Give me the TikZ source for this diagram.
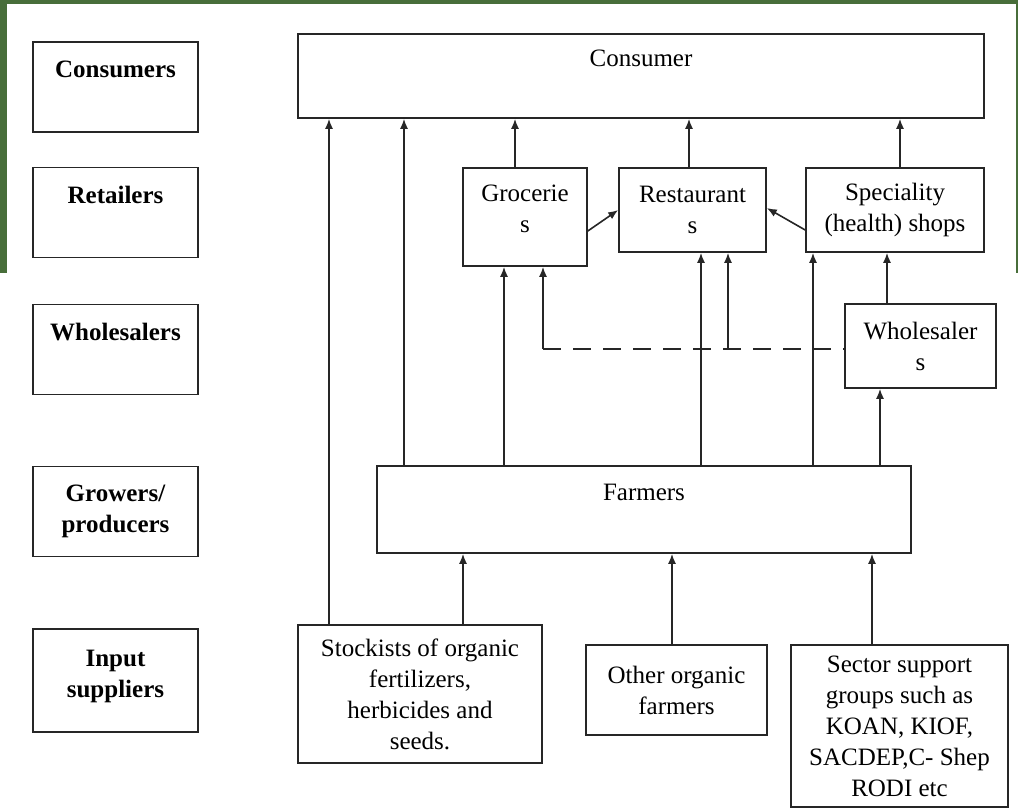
\documentclass[tikz,border=0pt]{standalone}
\usepackage{fontspec}
\setmainfont{Liberation Serif}
\usetikzlibrary{arrows.meta,positioning}

\definecolor{slidegreen}{RGB}{72,110,58}
% single line of text set in the upper half of its box
\newcommand{\upline}[1]{#1\\[2pt]\mbox{}}

\begin{document}
\begin{tikzpicture}[x=0.5pt,y=-0.5pt,
  box/.style={draw=black!85,line width=0.8pt,rectangle,inner sep=0pt,
    align=center,font=\fontsize{12.5}{15.5}\selectfont},
  lbl/.style={box,font=\fontsize{12.5}{15.5}\selectfont\bfseries,
    minimum width=82.5pt,minimum height=45pt},
  arr/.style={black!85,line width=0.8pt,-{Latex[length=5pt,width=4pt]}},
  link/.style={black!85,line width=0.8pt,dash pattern=on 9pt off 6pt}]
% Background: slide frame behind the upper part
\useasboundingbox (0,0) rectangle (1018,810);
\fill[slidegreen] (0,0) rectangle (1018,273);
\fill[white] (7,4) rectangle (1016,273);
\fill[white] (0,273) rectangle (1018,810);
% Level labels on the left
\node[lbl] (lcons) at (115.5,87) {\upline{Consumers}};
\node[lbl] (lret) at (115.5,212.5) {\upline{Retailers}};
\node[lbl] (lwhole) at (115.5,349.5) {\upline{Wholesalers}};
\node[lbl] (lgrow) at (115.5,511.5) {Growers/\\producers};
\node[lbl,minimum height=51.5pt] (linput) at (115.5,680.5) {Input\\suppliers\\[-8.5pt]\mbox{}};
% Chain actors
\node[box,minimum width=343pt,minimum height=42pt] (cons) at (641,76) {\upline{Consumer}};
\node[box,minimum width=62pt,minimum height=49pt] (groc) at (525,217) {Grocerie\\s\\[-7.5pt]\mbox{}};
\node[box,minimum width=73.5pt,minimum height=42pt] (rest) at (692.5,210) {Restaurant\\s};
\node[box,minimum width=89pt,minimum height=42pt] (spec) at (895,210) {Speciality\\(health) shops};
\node[box,minimum width=75.5pt,minimum height=42pt] (whole) at (920.5,346) {Wholesaler\\s};
\node[box,minimum width=267pt,minimum height=43.5pt] (farm) at (644,509.5) {\upline{Farmers}};
\node[box,minimum width=122pt,minimum height=69pt] (stock) at (420,694)
  {Stockists of organic\\fertilizers,\\herbicides and\\seeds.};
\node[box,minimum width=90.5pt,minimum height=45pt] (other) at (676.5,690) {Other organic\\farmers};
\node[box,minimum width=108.5pt,minimum height=81pt] (sector) at (899.5,726)
  {Sector support\\groups such as\\KOAN, KIOF,\\SACDEP,C- Shep\\RODI etc};
% Flows to the consumer
\draw[arr] (329,0 |- stock.north) -- (329,0 |- cons.south);
\draw[arr] (404,0 |- farm.north) -- (404,0 |- cons.south);
\draw[arr] (515,0 |- groc.north) -- (515,0 |- cons.south);
\draw[arr] (689,0 |- rest.north) -- (689,0 |- cons.south);
\draw[arr] (900,0 |- spec.north) -- (900,0 |- cons.south);
% Between retailers
\draw[arr] (groc.east |- 0,231) -- (rest.west |- 0,210);
\draw[arr] (spec.west |- 0,230) -- (rest.east |- 0,208);
% Wholesaler supplies (dashed)
\coordinate (d1) at (543,349);
\coordinate (d2) at (728,349);
\draw[link] (d1) -- (whole.west |- d1);
\draw[arr] (d1) -- (d1 |- groc.south);
\draw[arr] (d2) -- (d2 |- rest.south);
\draw[arr] (whole.north -| 887,0) -- (887,0 |- spec.south);
% Farmers to retailers and wholesalers
\draw[arr] (504,0 |- farm.north) -- (504,0 |- groc.south);
\draw[arr] (701,0 |- farm.north) -- (701,0 |- rest.south);
\draw[arr] (813,0 |- farm.north) -- (813,0 |- spec.south);
\draw[arr] (880,0 |- farm.north) -- (880,0 |- whole.south);
% Inputs to farmers
\draw[arr] (463,0 |- stock.north) -- (463,0 |- farm.south);
\draw[arr] (672,0 |- other.north) -- (672,0 |- farm.south);
\draw[arr] (872,0 |- sector.north) -- (872,0 |- farm.south);
\end{tikzpicture}
\end{document}
